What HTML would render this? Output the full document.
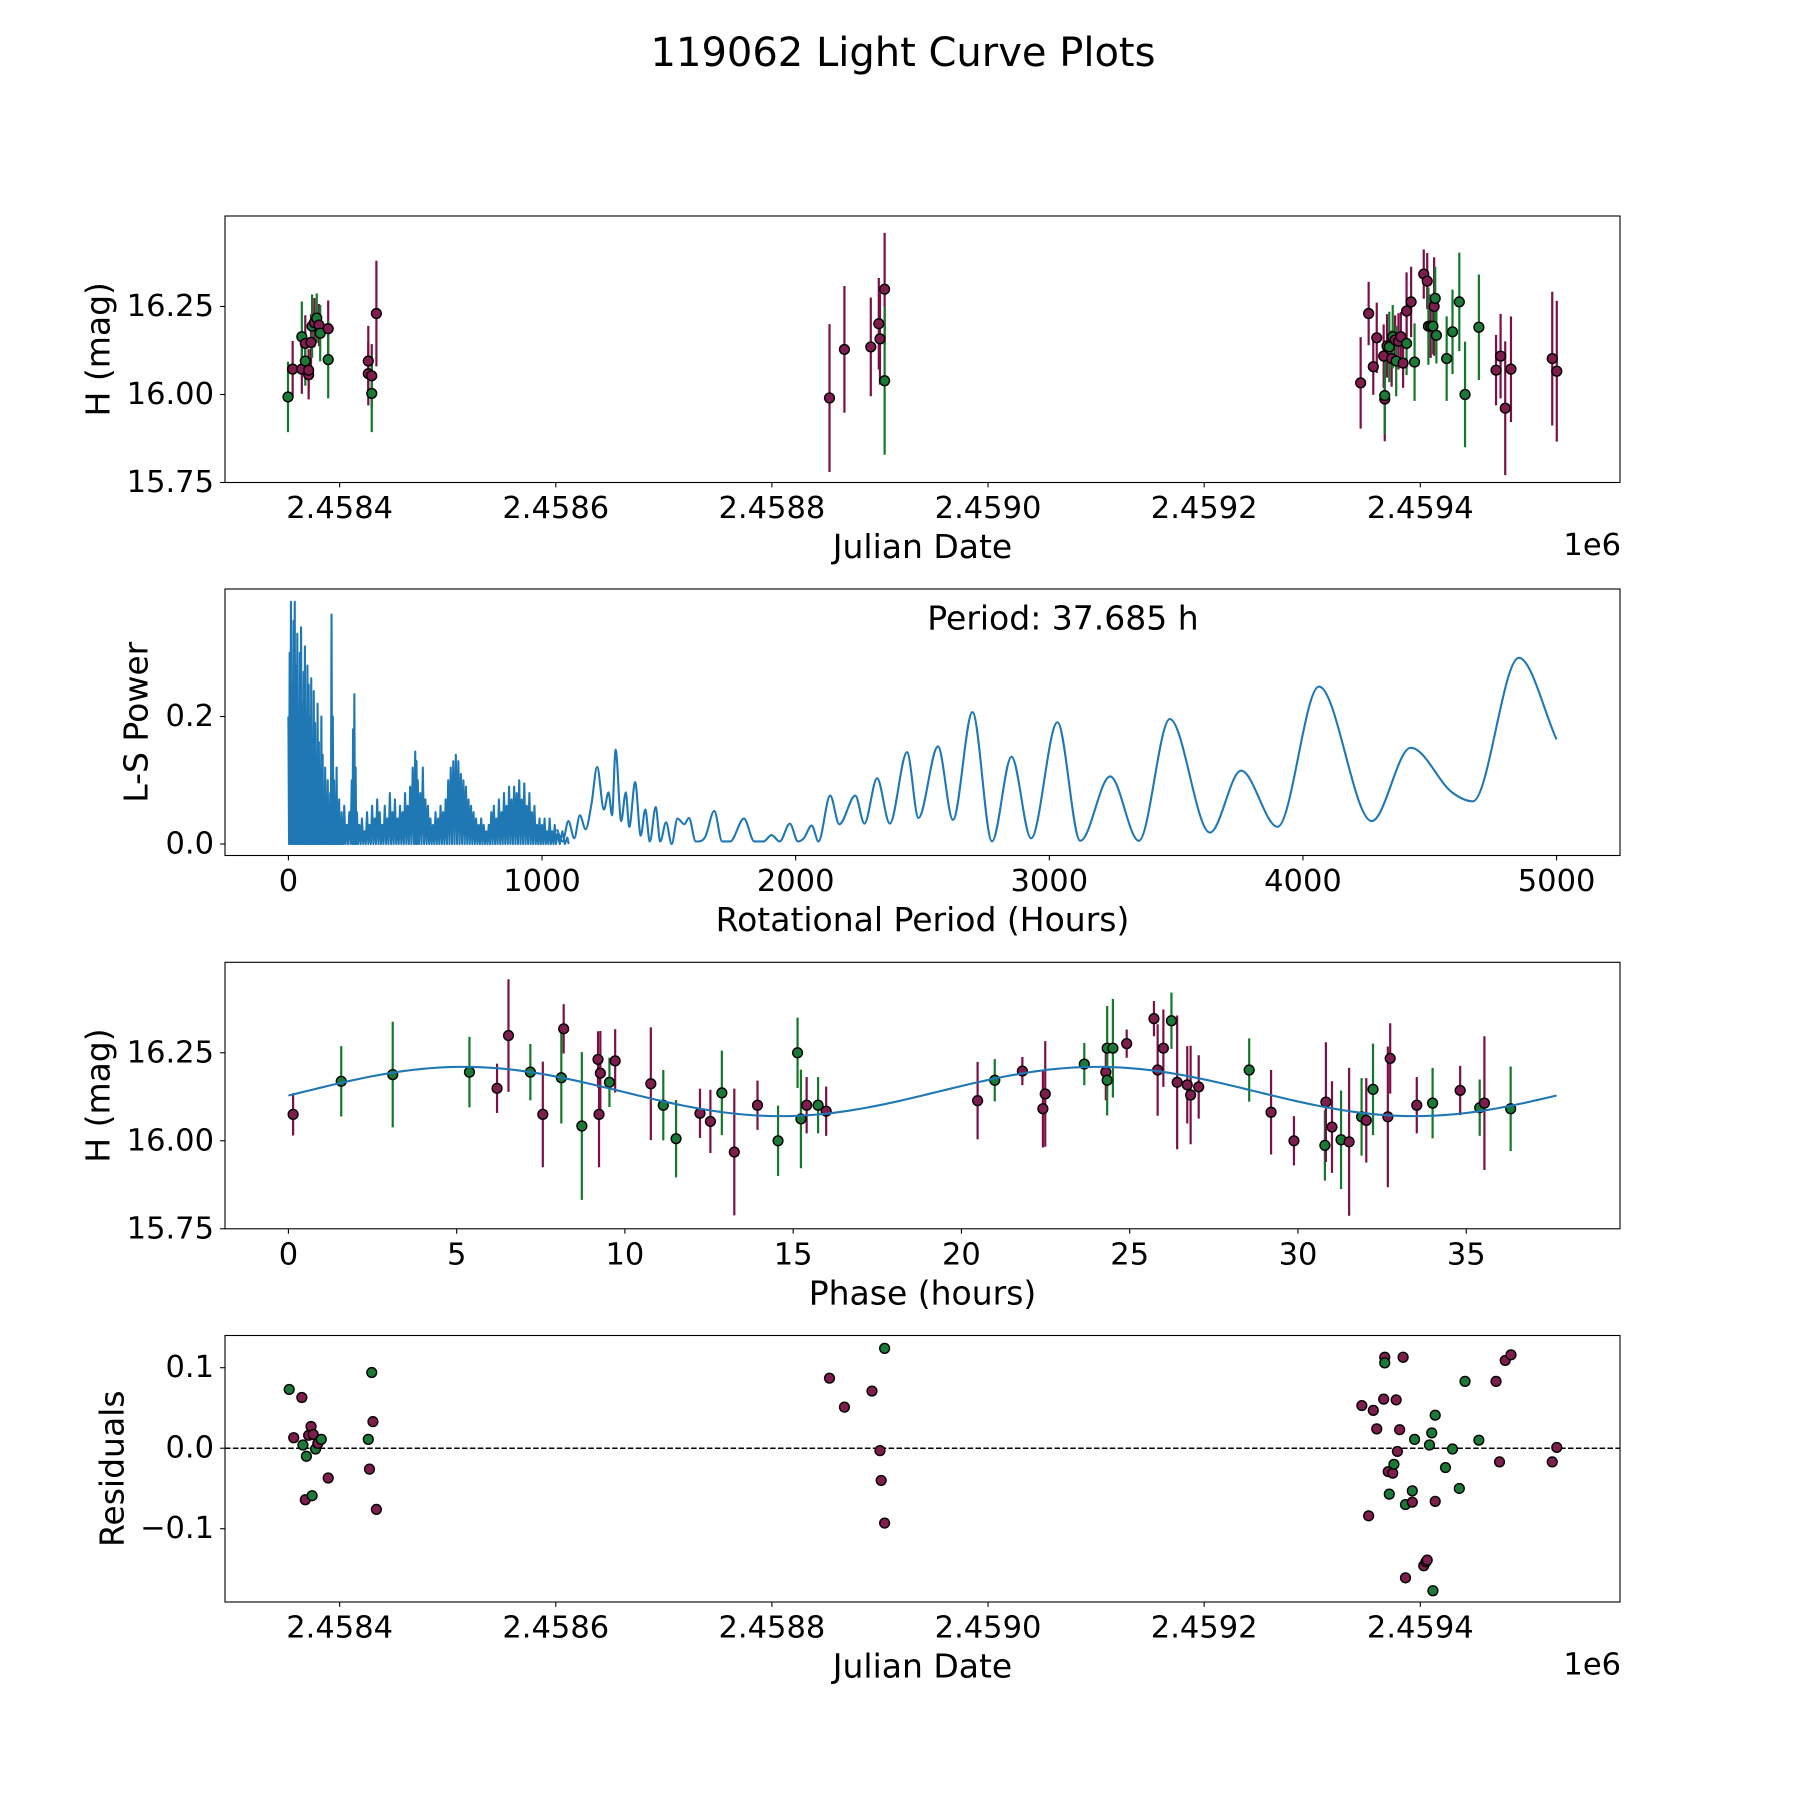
<!DOCTYPE html>
<html><head><meta charset="utf-8"><style>
html,body{margin:0;padding:0;background:#fff;}
svg{display:block;font-family:"DejaVu Sans","Liberation Sans",sans-serif;}
</style></head><body>
<svg id="fig" width="1800" height="1800" viewBox="0 0 1800 1800" xmlns="http://www.w3.org/2000/svg">
<rect x="0" y="0" width="1800" height="1800" fill="#fff"/>
<text x="903" y="53" font-size="40" text-anchor="middle" dominant-baseline="central">119062 Light Curve Plots</text>
</svg>
<script>
// ---------- Panel 1: light curve (JD offset from 2458000) ----------
const lcDays = [352.2,356.5,365.0,365.0,368.2,368.2,371.3,371.3,373.5,374.5,376.6,378.8,380.9,382.0,389.4,389.4,426.5,426.5,429.7,429.7,434.0,
853.3,867.1,891.5,898.9,900.0,904.3,904.3,
1344.8,1352.2,1356.5,1359.7,1366.1,1367.1,1367.1,1369.2,1371.3,1373.5,1374.5,1376.7,1377.7,1379.8,1382.0,1384.1,1387.3,1387.3,1391.5,1394.7,1403.2,1406.4,1407.5,1409.6,1411.7,1412.8,1413.8,1414.9,1424.4,1429.8,1436.1,1441.4,1454.2,1470.1,1474.3,1478.6,1483.9,1522.1,1526.3];
const lcMag = [15.993,16.072,16.072,16.164,16.145,16.095,16.056,16.069,16.148,16.194,16.204,16.217,16.197,16.174,16.187,16.099,16.095,16.059,16.053,16.003,16.230,
15.990,16.128,16.135,16.201,16.158,16.299,16.039,
16.033,16.230,16.079,16.161,16.109,15.987,15.997,16.138,16.135,16.102,16.164,16.155,16.095,16.151,16.164,16.089,16.145,16.237,16.263,16.092,16.342,16.322,16.194,16.194,16.194,16.250,16.273,16.168,16.102,16.178,16.263,16.000,16.191,16.069,16.109,15.961,16.072,16.102,16.066];
const lcErr = [0.10,0.08,0.07,0.10,0.08,0.07,0.07,0.06,0.08,0.09,0.07,0.07,0.06,0.08,0.08,0.11,0.10,0.09,0.09,0.11,0.15,
0.21,0.18,0.14,0.13,0.13,0.16,0.21,
0.13,0.09,0.08,0.10,0.09,0.12,0.11,0.09,0.10,0.08,0.09,0.07,0.10,0.08,0.07,0.07,0.09,0.11,0.10,0.11,0.07,0.08,0.11,0.09,0.08,0.14,0.09,0.08,0.12,0.12,0.14,0.15,0.15,0.10,0.12,0.19,0.15,0.19,0.20];
const lcBand = "gmmgmgmmmgmgmgmgmmmgm"+"mmmmmmg"+"mmmmmmgmgmgmgmmmgmmgmmgmgmgggggggmmmmmm";

// ---------- Panel 2: periodogram ----------
const lsDensePeriod = [0,5,10,15,20,25,30,35,40,45,50,55,60,65,70,75,80,85,90,95,100,105,110,115,120,125,130,135,140,145,150,155,160,165,170,175,180,185,190,195,200,205,210,215,220,230,240,250,255,260,265,270,280,290,300,310,320,330,340,350,360,370,380,390,400,410,420,430,440,450,460,470,480,490,500,505,510,520,530,540,550,560,570,580,590,600,610,620,630,640,650,660,670,680,690,700,710,720,730,740,750,760,770,780,790,800,810,820,830,840,850,860,870,880,890,900,910,920,930,940,950,960,970,980,990,1000,1010,1020,1030,1040,1050,1060,1080,1100];
const lsDensePower = [0.20,0.30,0.38,0.25,0.35,0.38,0.28,0.33,0.20,0.30,0.34,0.22,0.27,0.31,0.18,0.28,0.25,0.20,0.26,0.15,0.24,0.19,0.12,0.22,0.16,0.10,0.20,0.14,0.08,0.12,0.06,0.10,0.05,0.08,0.36,0.20,0.10,0.05,0.12,0.04,0.07,0.03,0.05,0.04,0.06,0.03,0.05,0.10,0.18,0.235,0.12,0.05,0.03,0.04,0.02,0.05,0.03,0.06,0.04,0.07,0.05,0.03,0.06,0.04,0.08,0.05,0.07,0.04,0.06,0.05,0.08,0.06,0.09,0.12,0.145,0.13,0.10,0.08,0.12,0.07,0.06,0.04,0.03,0.05,0.04,0.06,0.05,0.07,0.10,0.12,0.13,0.14,0.13,0.11,0.10,0.09,0.07,0.06,0.05,0.04,0.03,0.04,0.03,0.02,0.03,0.05,0.06,0.04,0.07,0.05,0.08,0.06,0.09,0.07,0.09,0.08,0.10,0.07,0.095,0.06,0.08,0.05,0.06,0.03,0.04,0.03,0.04,0.02,0.04,0.02,0.03,0.015,0.02,0.01];
const lsSmoothPeriod = [1059,1081,1104,1127,1149,1172,1195,1217,1244,1262,1276,1290,1312,1330,1344,1367,1389,1407,1425,1448,1466,1489,1511,1534,1561,1579,1606,1643,1679,1710,1742,1796,1837,1873,1905,1937,1977,2009,2032,2063,2090,2136,2172,2235,2271,2321,2371,2439,2484,2561,2620,2697,2774,2851,2928,3032,3122,3240,3353,3475,3633,3756,3900,4063,4271,4425,4588,4670,4851,5000];
const lsSmoothPower = [0.023,0.004,0.036,0.009,0.045,0.023,0.063,0.121,0.054,0.081,0.045,0.148,0.036,0.081,0.027,0.097,0.013,0.054,0.004,0.058,0.004,0.034,0.0,0.040,0.031,0.041,0.004,0.011,0.052,0.004,0.004,0.040,0.004,0.004,0.014,0.004,0.032,0.004,0.009,0.029,0.004,0.076,0.031,0.076,0.032,0.103,0.032,0.144,0.041,0.153,0.038,0.207,0.004,0.137,0.009,0.191,0.005,0.106,0.005,0.196,0.018,0.115,0.027,0.247,0.036,0.151,0.081,0.067,0.292,0.164];
const bestPeriod = "37.685";

// ---------- Panel 3: phased light curve ----------
const phHours = [0.14,1.57,3.10,5.38,6.20,6.54,7.19,7.56,8.11,8.18,8.72,9.20,9.23,9.27,9.54,9.71,10.77,11.14,11.52,12.23,12.54,12.88,13.25,13.94,14.55,15.13,15.23,15.40,15.74,15.98,20.48,20.99,21.81,22.42,22.49,23.65,24.29,24.33,24.33,24.50,24.91,25.72,25.83,26.00,26.24,26.41,26.71,26.81,27.05,28.55,29.20,29.88,30.80,30.83,31.01,31.28,31.52,31.89,32.03,32.23,32.67,32.74,33.53,34.00,34.82,35.40,35.54,36.32];
const phMag = [16.075,16.169,16.188,16.195,16.149,16.299,16.195,16.075,16.179,16.318,16.042,16.231,16.075,16.192,16.166,16.227,16.162,16.101,16.006,16.078,16.055,16.136,15.968,16.101,16.000,16.250,16.062,16.101,16.101,16.084,16.114,16.172,16.198,16.091,16.133,16.218,16.195,16.172,16.263,16.263,16.276,16.347,16.201,16.263,16.341,16.166,16.159,16.130,16.153,16.201,16.081,16.000,15.987,16.110,16.039,16.003,15.997,16.068,16.058,16.146,16.068,16.234,16.101,16.107,16.143,16.094,16.107,16.091];
const phErr = [0.06,0.10,0.15,0.10,0.07,0.16,0.08,0.15,0.13,0.07,0.21,0.08,0.15,0.12,0.07,0.09,0.16,0.10,0.11,0.07,0.09,0.12,0.18,0.07,0.10,0.10,0.14,0.08,0.08,0.07,0.11,0.06,0.04,0.11,0.15,0.06,0.08,0.10,0.12,0.14,0.04,0.05,0.13,0.11,0.08,0.19,0.11,0.14,0.09,0.09,0.12,0.07,0.10,0.17,0.13,0.14,0.21,0.11,0.12,0.13,0.20,0.10,0.08,0.10,0.07,0.08,0.19,0.12];
const phBandList = ["m","g","g","g","m","m","g","m","g","m","g","m","m","m","g","m","m","g","g","m","m","g","m","m","g","g","g","m","g","m","m","g","m","m","m","g","m","g","g","g","m","m","m","m","g","m","m","m","m","g","m","m","g","m","m","g","m","g","m","g","m","m","m","g","m","g","m","g"];
const fitMean = [16.14];
const fitAmp = [0.07];
const fitHalfPeriod = [18.84];
const fitPeak = [5.2];

// ---------- Panel 4: residuals ----------
const resDays = [353.3,357.5,365.0,366.0,368.2,369.2,371.3,373.5,374.5,375.6,377.7,379.8,383.0,389.4,426.5,427.6,430.8,429.7,434.0,
853.3,867.1,892.6,900.0,901.1,904.3,904.3,
1345.9,1352.2,1356.5,1359.7,1366.1,1367.1,1367.1,1370.3,1371.3,1374.5,1375.6,1377.7,1378.8,1380.9,1384.1,1386.3,1386.3,1392.6,1392.6,1394.7,1403.2,1405.3,1406.4,1408.5,1410.6,1413.8,1413.8,1411.7,1423.3,1429.8,1436.1,1441.4,1454.2,1470.1,1473.3,1478.6,1483.9,1522.1,1526.3];
const resVal = [0.073,0.013,0.063,0.004,-0.064,-0.010,0.016,0.027,-0.059,0.017,-0.001,0.006,0.011,-0.037,0.011,-0.026,0.033,0.094,-0.076,
0.087,0.051,0.071,-0.003,-0.040,-0.093,0.124,
0.053,-0.084,0.047,0.024,0.061,0.113,0.106,-0.029,-0.057,-0.031,-0.020,0.060,-0.004,0.023,0.113,-0.070,-0.161,-0.053,-0.067,0.011,-0.146,-0.141,-0.139,0.004,0.019,-0.066,0.041,-0.177,-0.024,-0.001,-0.050,0.083,0.010,0.083,-0.017,0.109,0.116,-0.017,0.001];
const resBand = ["g","m","m","g","m","g","m","m","g","m","g","m","g","m","g","m","m","g","m",
"m","m","m","m","m","m","g",
"m","m","m","m","m","m","g","m","g","m","g","m","m","m","m","g","m","g","m","g","m","m","m","g","g","m","g","g","g","g","g","g","g","m","m","m","m","m","m"];

// ---------- tick label arrays ----------
const jdTicks = [2458400,2458600,2458800,2459000,2459200,2459400];
const jdTickLabels = ["2.4584","2.4586","2.4588","2.4590","2.4592","2.4594"];
const magTicks = [15.75,16.00,16.25];
const magTickLabels = ["15.75","16.00","16.25"];
const perTicks = [0,1000,2000,3000,4000,5000];
const perTickLabels = ["0","1000","2000","3000","4000","5000"];
const powTicks = [0.0,0.2];
const powTickLabels = ["0.0","0.2"];
const phTicks = [0,5,10,15,20,25,30,35];
const phTickLabels = ["0","5","10","15","20","25","30","35"];
const resTicks = [-0.1,0.0,0.1];
const resTickLabels = ["\u22120.1","0.0","0.1"];

const NS = "http://www.w3.org/2000/svg";
const svg = document.getElementById("fig");
function mk(tag, attrs, parent){
  const e = document.createElementNS(NS, tag);
  for (const k in attrs) e.setAttribute(k, attrs[k]);
  (parent||svg).appendChild(e);
  return e;
}
const L = 225, R = 1620;
const COL = {m:{fill:"#7f1d4e",bar:"#7a1045"}, g:{fill:"#1b7a37",bar:"#13782a"}};

function makeAxis(name, top, bottom, xmin, xmax, ymin, ymax){
  const g = mk("g", {});
  
  
  const ax = {g, top, bottom,
    x: v => L + (v - xmin) / (xmax - xmin) * (R - L),
    y: v => bottom - (v - ymin) / (ymax - ymin) * (bottom - top)};
  return ax;
}
function frame(ax){
  const r = mk("rect", {x:L, y:ax.top, width:R-L, height:ax.bottom-ax.top, fill:"none", stroke:"#000", "stroke-width":1.1}, ax.g);
  
  
}
function xTicks(ax, vals, labels, offset){
  vals.forEach((v,i)=>{
    const X = ax.x(v - (offset||0));
    const t = mk("line", {x1:X, x2:X, y1:ax.bottom, y2:ax.bottom+4.9, stroke:"#000", "stroke-width":1.1}, ax.g);
    
    
    const tx = mk("text", {x:X, y:ax.bottom+26, "font-size":30.5, "text-anchor":"middle", "dominant-baseline":"central"}, ax.g);
    tx.textContent = labels[i];
    
    
  });
}
function yTicks(ax, vals, labels){
  vals.forEach((v,i)=>{
    const Y = ax.y(v);
    const t = mk("line", {x1:L-4.9, x2:L, y1:Y, y2:Y, stroke:"#000", "stroke-width":1.1}, ax.g);
    
    
    const tx = mk("text", {x:L-11, y:Y, "font-size":30.5, "text-anchor":"end", "dominant-baseline":"central"}, ax.g);
    tx.textContent = labels[i];
    
    
  });
}
function xLabel(ax, txt){
  const t = mk("text", {x:(L+R)/2, y:ax.bottom+64, "font-size":33, "text-anchor":"middle", "dominant-baseline":"central"}, ax.g);
  t.textContent = txt;
  
  
}
function yLabel(ax, txt, xpos){
  const cy = (ax.top+ax.bottom)/2;
  const t = mk("text", {x:xpos, y:cy, "font-size":33, "text-anchor":"middle", "dominant-baseline":"central", transform:`rotate(-90 ${xpos} ${cy})`}, ax.g);
  t.textContent = txt;
  
  
}
function offsetLabel(ax){
  const t = mk("text", {x:1621, y:ax.bottom+63, "font-size":30.5, "text-anchor":"end", "dominant-baseline":"central"}, ax.g);
  t.textContent = "1e6";
  
  
}
function errPoints(ax, xs, ys, es, bands){
  xs.forEach((v,i)=>{
    if (!es) return;
    const c = COL[bands[i]];
    const ln = mk("line", {x1:ax.x(v), x2:ax.x(v), y1:ax.y(ys[i]-es[i]), y2:ax.y(ys[i]+es[i]), stroke:c.bar, "stroke-width":2.2}, ax.g);
    
    
  });
  xs.forEach((v,i)=>{
    const c = COL[bands[i]];
    const p = mk("circle", {cx:ax.x(v), cy:ax.y(ys[i]), r:4.9, fill:c.fill, stroke:"#000", "stroke-width":1.4}, ax.g);
    
    
  });
}

// ===== Panel 1 =====
const JD0 = 2458000;
const ax1 = makeAxis("light-curve-panel", 216, 482.5, 293.9, 1584.8, 15.75, 16.507);
errPoints(ax1, lcDays, lcMag, lcErr, lcBand.split(""));
frame(ax1);
xTicks(ax1, jdTicks, jdTickLabels, JD0);
yTicks(ax1, magTicks, magTickLabels);
xLabel(ax1, "Julian Date"); yLabel(ax1, "H (mag)", 98); offsetLabel(ax1);

// ===== Panel 2 =====
const ax2 = makeAxis("periodogram-panel", 589, 855.5, -250, 5250, -0.018, 0.4);
let pts = [];
lsDensePeriod.forEach((h,i)=>{
  pts.push([ax2.x(h), ax2.y(lsDensePower[i])]);
  const next = i+1 < lsDensePeriod.length ? lsDensePeriod[i+1] : h+10;
  pts.push([ax2.x((h+next)/2), ax2.y(0)]);
});
const dense = mk("polyline", {points: pts.map(p=>p.join(",")).join(" "), fill:"none", stroke:"#1f77b4", "stroke-width":2.1, "stroke-linejoin":"round"}, ax2.g);


(function(){
  const xs = lsSmoothPeriod, ys = lsSmoothPower, n = xs.length;
  const d = [], m = [];
  for (let i=0;i<n-1;i++) d.push((ys[i+1]-ys[i])/(xs[i+1]-xs[i]));
  for (let i=0;i<n;i++){
    if (i===0) m.push(d[0]); else if (i===n-1) m.push(d[n-2]);
    else m.push(d[i-1]*d[i] <= 0 ? 0 : (d[i-1]+d[i])/2);
  }
  let path = `M${ax2.x(xs[0])},${ax2.y(ys[0])}`;
  for (let i=0;i<n-1;i++){
    const h = xs[i+1]-xs[i];
    path += ` C${ax2.x(xs[i]+h/3)},${ax2.y(ys[i]+m[i]*h/3)} ${ax2.x(xs[i+1]-h/3)},${ax2.y(ys[i+1]-m[i+1]*h/3)} ${ax2.x(xs[i+1])},${ax2.y(ys[i+1])}`;
  }
  const sm = mk("path", {d:path, fill:"none", stroke:"#1f77b4", "stroke-width":2.1}, ax2.g);
  
  
})();
frame(ax2);
xTicks(ax2, perTicks, perTickLabels, 0);
yTicks(ax2, powTicks, powTickLabels);
xLabel(ax2, "Rotational Period (Hours)"); yLabel(ax2, "L-S Power", 136);
const ptxt = mk("text", {x:1063, y:618, "font-size":33, "text-anchor":"middle", "dominant-baseline":"central"}, ax2.g);
ptxt.textContent = "Period: " + bestPeriod + " h";



// ===== Panel 3 =====
const ax3 = makeAxis("phase-curve-panel", 962.3, 1228.8, -1.884, 39.569, 15.75, 16.507);
errPoints(ax3, phHours, phMag, phErr, phBandList);
(function(){
  let d = "";
  const per = 37.685;
  for (let k=0;k<=200;k++){
    const t = per*k/200;
    const v = fitMean[0] + fitAmp[0]*Math.cos(2*Math.PI*(t-fitPeak[0])/fitHalfPeriod[0]);
    d += (k?" L":"M") + ax3.x(t) + "," + ax3.y(v);
  }
  const f = mk("path", {d, fill:"none", stroke:"#1f77b4", "stroke-width":2.1}, ax3.g);
  
  
})();
frame(ax3);
xTicks(ax3, phTicks, phTickLabels, 0);
yTicks(ax3, magTicks, magTickLabels);
xLabel(ax3, "Phase (hours)"); yLabel(ax3, "H (mag)", 98);

// ===== Panel 4 =====
const ax4 = makeAxis("residuals-panel", 1335.5, 1602, 293.9, 1584.8, -0.191, 0.140);
const zl = mk("line", {x1:L, x2:R, y1:ax4.y(0), y2:ax4.y(0), stroke:"#000", "stroke-width":1.5, "stroke-dasharray":"5.5,2.4"}, ax4.g);


errPoints(ax4, resDays, resVal, null, resBand);
frame(ax4);
xTicks(ax4, jdTicks, jdTickLabels, JD0);
yTicks(ax4, resTicks, resTickLabels);
xLabel(ax4, "Julian Date"); yLabel(ax4, "Residuals", 112); offsetLabel(ax4);
</script>
</body></html>
